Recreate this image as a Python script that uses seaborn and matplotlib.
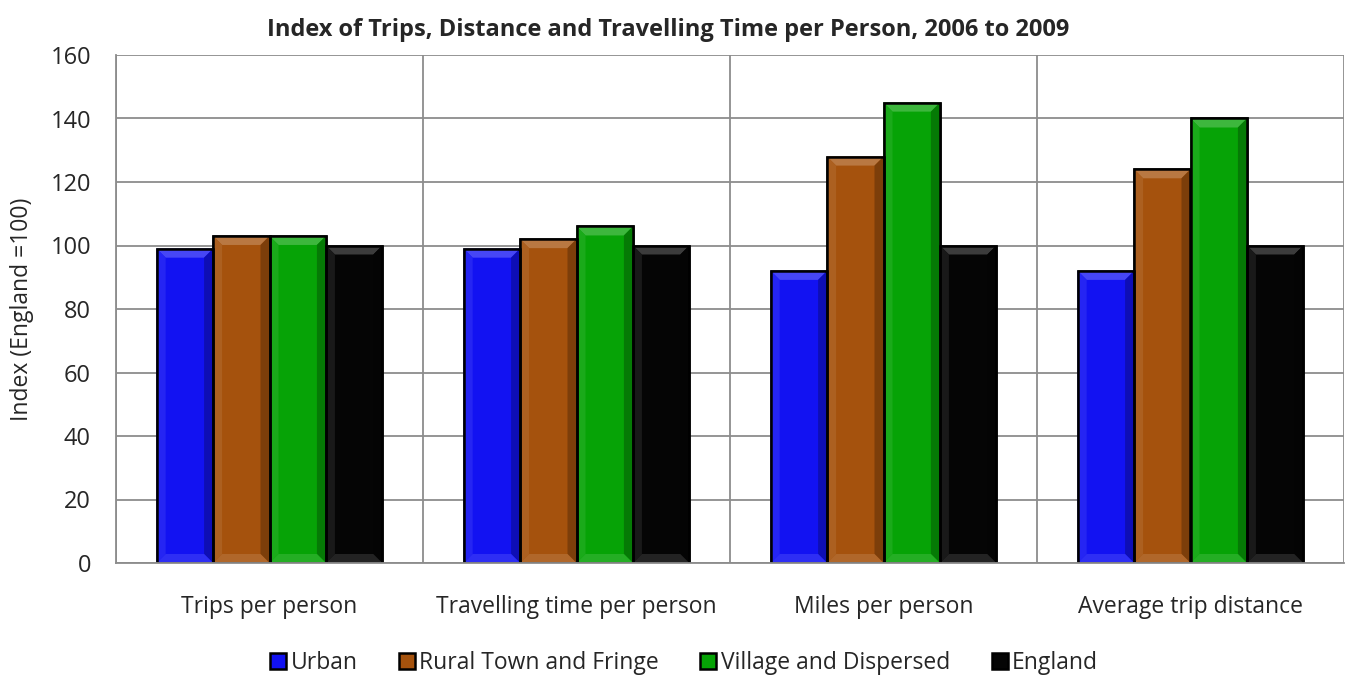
import matplotlib
matplotlib.use("Agg")
import matplotlib.pyplot as plt
from matplotlib.patches import Polygon
from matplotlib.colors import to_rgb
import seaborn as sns
import pandas as pd

# values
measures = ["Trips per person", "Travelling time per person", "Miles per person", "Average trip distance"]
areas = ["Urban", "Rural Town and Fringe", "Village and Dispersed", "England"]
urban = [99, 99, 92, 92]
rural_town = [103, 102, 128, 124]
village = [103, 106, 145, 140]
england = [100, 100, 100, 100]

colors = ["#1212F2", "#A5520D", "#06A306", "#050505"]

rows = []
for area, vals in zip(areas, [urban, rural_town, village, england]):
    for m, v in zip(measures, vals):
        rows.append({"measure": m, "area": area, "index": v})
df = pd.DataFrame(rows)

sns.set_style("white")
plt.rcParams["font.family"] = ["Open Sans", "DejaVu Sans"]

dpi = 100
fig = plt.figure(figsize=(1346 / dpi, 678 / dpi), dpi=dpi)
ax = fig.add_axes([116 / 1346, 1 - 563 / 678, (1344 - 116) / 1346, (563 - 55) / 678])

sns.barplot(data=df, x="measure", y="index", hue="area", order=measures, hue_order=areas,
            palette=colors, saturation=1, width=0.735, edgecolor="black", linewidth=1.8,
            ax=ax, legend=True)

ax.set_ylim(0, 160)
ax.set_xlim(-0.5, 3.5)


def shade(c, f):
    r, g, b = to_rgb(c)
    if f > 0:
        return (r + (1 - r) * f, g + (1 - g) * f, b + (1 - b) * f)
    return (r * (1 + f), g * (1 + f), b * (1 + f))


# bevel look on each bar, sized from the bar patches themselves
bx = 9 / 307
by = 9 / 3.175
for patch in list(ax.patches):
    x0, y0 = patch.get_x(), patch.get_y()
    w, h = patch.get_width(), patch.get_height()
    if h <= 0:
        continue
    fc = patch.get_facecolor()
    x1, y1 = x0 + w, y0 + h
    pieces = [
        ([(x0, y1), (x1, y1), (x1 - bx, y1 - by), (x0 + bx, y1 - by)], 0.22),
        ([(x0, y0), (x0, y1), (x0 + bx, y1 - by), (x0 + bx, y0 + by)], 0.08),
        ([(x1, y0), (x1, y1), (x1 - bx, y1 - by), (x1 - bx, y0 + by)], -0.25),
        ([(x0, y0), (x1, y0), (x1 - bx, y0 + by), (x0 + bx, y0 + by)], 0.12),
    ]
    for pts, f in pieces:
        ax.add_patch(Polygon(pts, closed=True, facecolor=shade(fc, f), edgecolor="none", zorder=patch.get_zorder()))
    ax.add_patch(plt.Rectangle((x0, y0), w, h, fill=False, edgecolor="black", linewidth=1.8,
                               zorder=patch.get_zorder() + 0.1))

ax.set_yticks(range(0, 161, 20))
ax.set_xticks([-0.5, 0.5, 1.5, 2.5, 3.5], minor=True)
ax.grid(axis="y", which="major", color="#8c8c8c", linewidth=1.3)
ax.grid(axis="x", which="minor", color="#8c8c8c", linewidth=1.3)
ax.grid(axis="x", which="major", visible=False)
ax.set_axisbelow(True)
ax.tick_params(axis="x", which="major", length=0, labelsize=16.5, pad=23)
ax.tick_params(axis="x", which="minor", length=9, color="#8c8c8c", width=1.3, direction="out")
ax.tick_params(axis="y", length=8, color="#8c8c8c", width=1.3, labelsize=17, direction="out", pad=10)
for s in ["top", "right"]:
    ax.spines[s].set_visible(False)
for s in ["left", "bottom"]:
    ax.spines[s].set_color("#8c8c8c")
    ax.spines[s].set_linewidth(1.3)

ax.set_xlabel("")
ax.set_ylabel("Index (England =100)", fontsize=16.5, labelpad=12)
fig.text(668 / 1346, 1 - 30 / 678, "Index of Trips, Distance and Travelling Time per Person, 2006 to 2009",
         ha="center", va="center", fontsize=17, fontweight="bold")

handles, labels = ax.get_legend_handles_labels()
ax.get_legend().remove()
fig.legend(handles, labels, loc="center", bbox_to_anchor=(684 / 1346, 1 - 663 / 678),
           ncol=4, frameon=False, fontsize=16.5,
           handlelength=0.7, handleheight=0.7, handletextpad=0.2, columnspacing=1.8)

fig.savefig("out.png", dpi=dpi)
